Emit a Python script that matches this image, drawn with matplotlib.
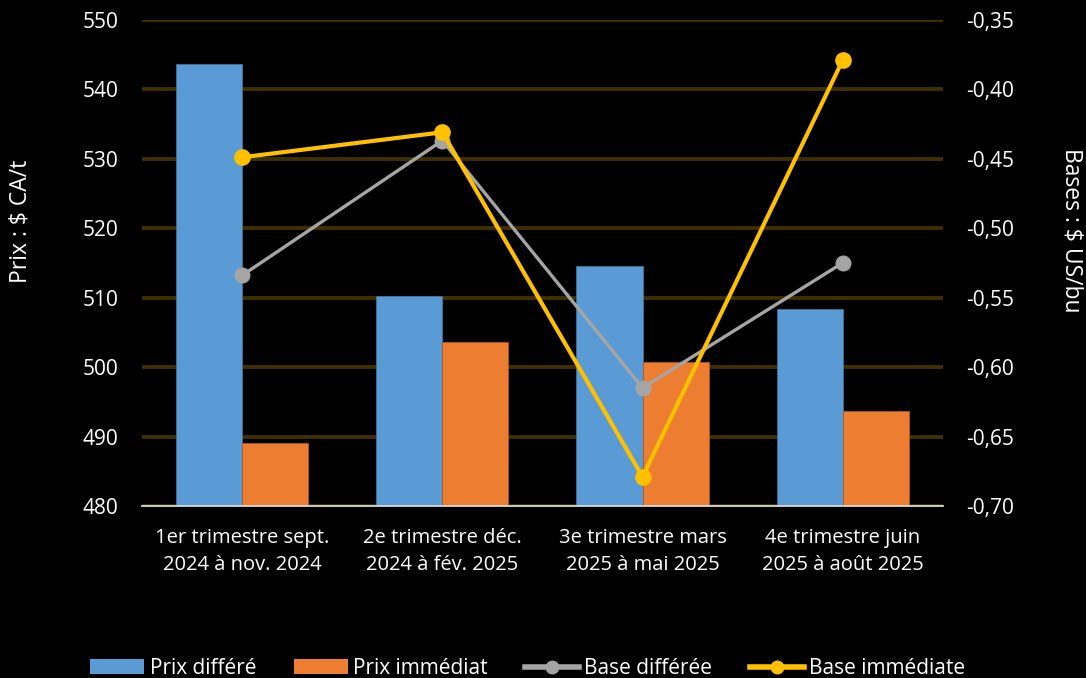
import matplotlib
matplotlib.use("Agg")
import matplotlib.pyplot as plt
import numpy as np
from matplotlib.ticker import FuncFormatter
from matplotlib.patches import Patch
from matplotlib.lines import Line2D

plt.rcParams['font.family'] = ['Open Sans', 'DejaVu Sans']

# données
categories = ["1er trimestre sept.\n2024 à nov. 2024",
              "2e trimestre déc.\n2024 à fév. 2025",
              "3e trimestre mars\n2025 à mai 2025",
              "4e trimestre juin\n2025 à août 2025"]
prix_differe = [543.6, 510.3, 514.5, 508.3]
prix_immediat = [489.1, 503.6, 500.7, 493.7]
base_differee = [-0.534, -0.437, -0.615, -0.525]
base_immediate = [-0.449, -0.431, -0.679, -0.379]

c_blue = "#5B9BD5"
c_orange = "#ED7D31"
c_gray = "#A5A5A5"
c_gold = "#FFC000"
c_grid = "#403000"
c_text = "#FFFFFF"

fig = plt.figure(figsize=(10.86, 6.78), dpi=100, facecolor="black")
ax = fig.add_axes([0.1308, 0.2537, 0.7374, 0.7172])
ax.set_facecolor("black")

x = np.arange(len(categories))
w = 0.33
ax.bar(x - w / 2, prix_differe, w, color=c_blue, edgecolor="#41719C", linewidth=0.6, zorder=3)
ax.bar(x + w / 2, prix_immediat, w, color=c_orange, edgecolor="#AE5A21", linewidth=0.6, zorder=3)

ax.set_xlim(-0.5, len(categories) - 0.5)
ax.set_ylim(480, 550)
ax.set_yticks(np.arange(480, 551, 10))
ax.grid(axis="y", color=c_grid, linewidth=2.8, zorder=0)
ax.set_axisbelow(True)
for s in ["top", "left", "right"]:
    ax.spines[s].set_visible(False)
ax.spines["bottom"].set_color("#D9D9D9")
ax.spines["bottom"].set_linewidth(1.3)
ax.spines["bottom"].set_zorder(4)
ax.tick_params(axis="both", length=0, colors=c_text)
ax.tick_params(axis="y", pad=17, labelsize=15)
ax.tick_params(axis="x", pad=16, labelsize=14.5)
ax.set_xticks(x)
ax.set_xticklabels(categories, linespacing=1.45)

ax2 = ax.twinx()
ax2.set_ylim(-0.70, -0.35)
ax2.set_yticks(np.arange(-0.70, -0.349, 0.05))
ax2.yaxis.set_major_formatter(FuncFormatter(lambda v, p: f"{v:.2f}".replace(".", ",")))
for s in ["top", "left", "right", "bottom"]:
    ax2.spines[s].set_visible(False)
ax2.tick_params(axis="y", length=0, colors=c_text, labelsize=15, pad=16.5)
ax2.plot(x, base_differee, color=c_gray, linewidth=2.4, marker="o", markersize=10.5, zorder=5)
ax2.plot(x, base_immediate, color=c_gold, linewidth=3.0, marker="o", markersize=11, zorder=6)

fig.text(0.019, 0.674, "Prix : $ CA/t", rotation=90, color=c_text, fontsize=16.5,
         ha="center", va="center")
fig.text(0.987, 0.661, "Bases : $ US/bu", rotation=270, color=c_text, fontsize=16.5,
         ha="center", va="center")

handles = [Patch(facecolor=c_blue), Patch(facecolor=c_orange),
           Line2D([], [], color=c_gray, linewidth=4, marker="o", markersize=9),
           Line2D([], [], color=c_gold, linewidth=4, marker="o", markersize=9)]
labels = ["Prix différé", "Prix immédiat", "Base différée", "Base immédiate"]
leg = fig.legend(handles, labels, loc="center", bbox_to_anchor=(0.486, 0.014), ncol=4,
                 frameon=False, fontsize=15, labelcolor=c_text, handlelength=2.6,
                 handleheight=0.7, handletextpad=0.25, columnspacing=1.8)

fig.savefig("out.png", dpi=100, facecolor="black")
